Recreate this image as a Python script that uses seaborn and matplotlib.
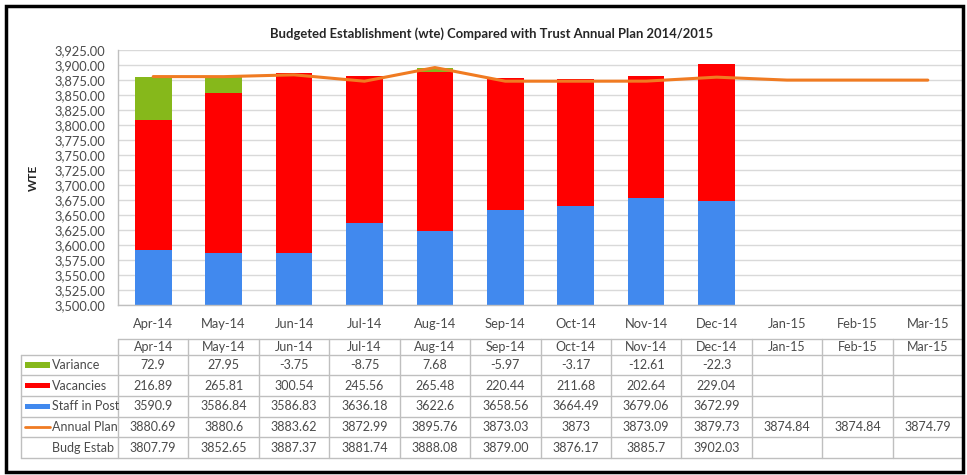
import numpy as np
import pandas as pd
import matplotlib
matplotlib.use("Agg")
import matplotlib.pyplot as plt
import seaborn as sns
from matplotlib.patches import Rectangle
from matplotlib.lines import Line2D

####
# data (as printed in the table under the chart)
####

months = ["Apr-14", "May-14", "Jun-14", "Jul-14", "Aug-14", "Sep-14",
          "Oct-14", "Nov-14", "Dec-14", "Jan-15", "Feb-15", "Mar-15"]
variance = ["72.9", "27.95", "-3.75", "-8.75", "7.68", "-5.97",
            "-3.17", "-12.61", "-22.3", "", "", ""]
vacancies = ["216.89", "265.81", "300.54", "245.56", "265.48", "220.44",
             "211.68", "202.64", "229.04", "", "", ""]
staff_in_post = ["3590.9", "3586.84", "3586.83", "3636.18", "3622.6", "3658.56",
                 "3664.49", "3679.06", "3672.99", "", "", ""]
annual_plan = ["3880.69", "3880.6", "3883.62", "3872.99", "3895.76", "3873.03",
               "3873", "3873.09", "3879.73", "3874.84", "3874.84", "3874.79"]
budg_estab = ["3807.79", "3852.65", "3887.37", "3881.74", "3888.08", "3879.00",
              "3876.17", "3885.7", "3902.03", "", "", ""]

title = "Budgeted Establishment (wte) Compared with Trust Annual Plan 2014/2015"

GREEN = "#86B81B"
RED = "#FF0000"
BLUE = "#4189EE"
ORANGE = "#F07B22"
GRID = "#D9D9D9"
BORDER = "#BFBFBF"
TXT = "#4A4A4A"
FS = 9

W, H = 967, 475


def to_num(vals):
    return pd.to_numeric(pd.Series(vals).replace("", np.nan))


def fx(px):
    # figure x fraction from pixel
    return px / W


def fy(py):
    # figure y fraction from pixel measured from the top
    return 1 - py / H


def main():
    sns.set_style("white")
    plt.rcParams["font.family"] = ["Lato", "DejaVu Sans"]

    df = pd.DataFrame({
        "month": months,
        "variance": to_num(variance),
        "vacancies": to_num(vacancies),
        "staff": to_num(staff_in_post),
        "plan": to_num(annual_plan),
    })
    # excel stacks columns from zero, negative variance falls below the axis
    df["vac_top"] = df["staff"] + df["vacancies"]
    df["var_top"] = df["vac_top"] + df["variance"].clip(lower=0)

    fig = plt.figure(figsize=(W / 100, H / 100), dpi=100)

    left, right, top, bottom = 118, 963, 50, 305
    ax = fig.add_axes([fx(left), fy(bottom), fx(right - left), (bottom - top) / H])

    bar_kw = dict(x="month", order=months, width=0.52, saturation=1,
                  errorbar=None, linewidth=0, ax=ax, zorder=2)
    sns.barplot(data=df, y="var_top", color=GREEN, **bar_kw)
    sns.barplot(data=df, y="vac_top", color=RED, **bar_kw)
    sns.barplot(data=df, y="staff", color=BLUE, **bar_kw)
    sns.lineplot(data=df, x=df.index, y="plan", color=ORANGE, linewidth=2.2,
                 ax=ax, zorder=3)

    ax.set_xlim(-0.5, len(months) - 0.5)
    ax.set_ylim(3500, 3925)
    ax.set_yticks(np.arange(3500, 3926, 25))
    ax.yaxis.set_major_formatter(plt.FuncFormatter(lambda v, p: f"{v:,.2f}"))
    ax.grid(axis="y", color=GRID, linewidth=1, zorder=0)
    ax.set_axisbelow(True)
    ax.tick_params(axis="both", length=0, labelsize=FS + 0.3, colors=TXT)
    ax.tick_params(axis="y", pad=9)
    ax.tick_params(axis="x", pad=9)
    for s in ["top", "right"]:
        ax.spines[s].set_visible(False)
    for s in ["left", "bottom"]:
        ax.spines[s].set_color(BORDER)
        ax.spines[s].set_linewidth(1)
    ax.set_xlabel("")
    ax.set_ylabel("")

    fig.text(fx(33), fy(178), "WTE", rotation=90, ha="center", va="center",
             fontsize=8.5, fontweight="bold", color="#262626")
    fig.text(fx(492), fy(34), title, ha="center", va="center",
             fontsize=9.4, fontweight="bold", color="#262626")

    # data table under the chart
    t_top, t_bot = 339, 458
    tax = fig.add_axes([fx(left), fy(t_bot), fx(right - left), (t_bot - t_top) / H])
    tax.set_xlim(-0.5, len(months) - 0.5)
    tax.set_ylim(t_bot - t_top, 0)
    tax.axis("off")

    col_w = (right - left) / len(months)

    def px2x(px):
        return (px - left) / col_w - 0.5

    x_lab = px2x(21)
    x_end = len(months) - 0.5
    head_h = 15.7
    row_h = (t_bot - t_top - head_h) / 5
    line_kw = dict(color=BORDER, linewidth=1, clip_on=False)

    # header row
    tax.plot([-0.5, x_end], [0, 0], **line_kw)
    for i, m in enumerate(months):
        tax.text(i, head_h / 2, m, ha="center", va="center", fontsize=FS, color=TXT)

    rows = [
        ("Variance", variance, "bar", GREEN),
        ("Vacancies", vacancies, "bar", RED),
        ("Staff in Post", staff_in_post, "bar", BLUE),
        ("Annual Plan", annual_plan, "line", ORANGE),
        ("Budg Estab", budg_estab, None, None),
    ]
    for r, (name, vals, key, col) in enumerate(rows):
        y0 = head_h + r * row_h
        yc = y0 + row_h / 2
        tax.plot([x_lab, x_end], [y0, y0], **line_kw)
        if key == "bar":
            tax.add_patch(Rectangle((px2x(25), yc - 2.7), px2x(50) - px2x(25), 5.4,
                                    color=col, clip_on=False, linewidth=0))
        elif key == "line":
            tax.add_line(Line2D([px2x(25), px2x(50)], [yc, yc], color=col,
                                linewidth=2, clip_on=False))
        tax.text(px2x(52), yc, name, ha="left", va="center", fontsize=FS, color=TXT)
        for i, v in enumerate(vals):
            tax.text(i, yc, v, ha="center", va="center", fontsize=FS, color=TXT)
    tax.plot([x_lab, x_end], [t_bot - t_top] * 2, **line_kw)
    # vertical cell borders
    tax.plot([x_lab, x_lab], [head_h, t_bot - t_top], **line_kw)
    for i in range(len(months) + 1):
        tax.plot([i - 0.5, i - 0.5], [0, t_bot - t_top], **line_kw)

    # outer chart frame
    fig.patches.append(Rectangle((fx(6), fy(472)), fx(957), (472 - 6) / H,
                                 transform=fig.transFigure, fill=False,
                                 edgecolor="black", linewidth=2.5))

    fig.savefig("out.png", dpi=100)
    plt.close(fig)


if __name__ == "__main__":
    main()
